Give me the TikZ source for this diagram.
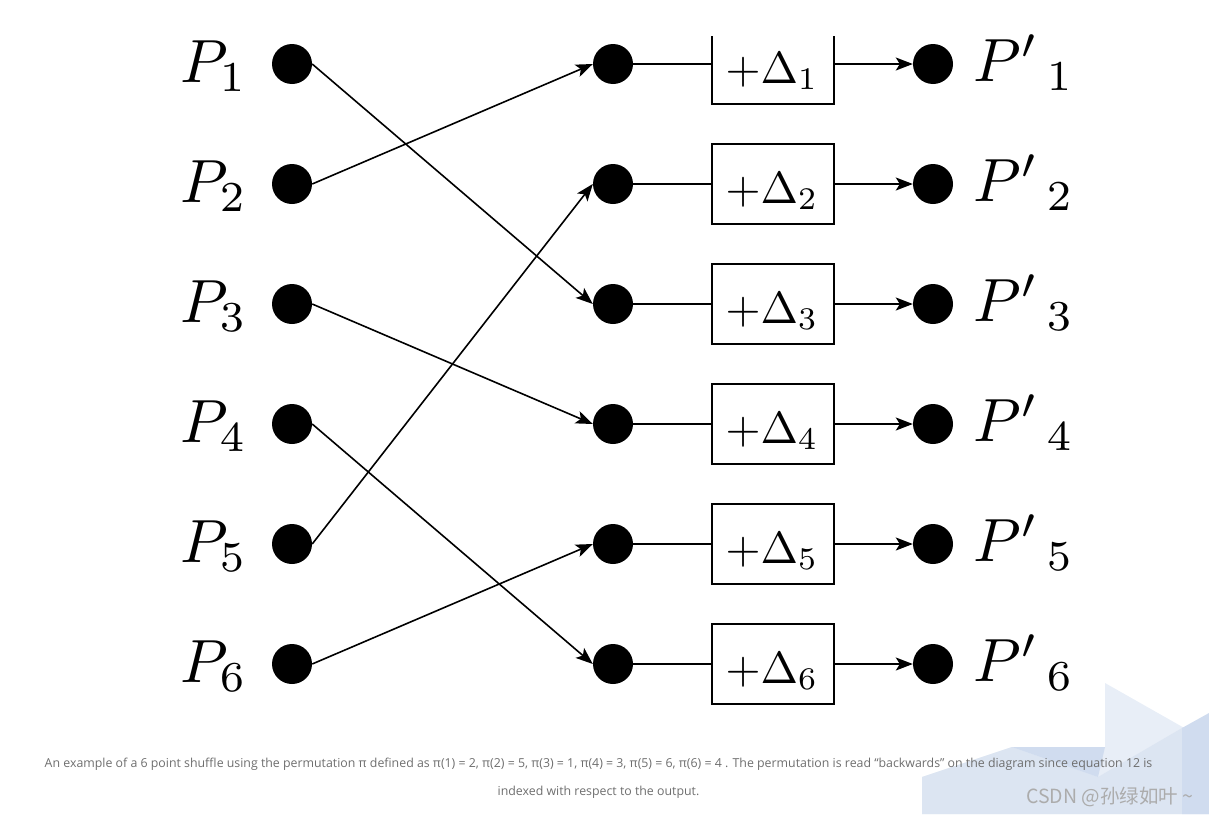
\documentclass[tikz,border=0pt]{standalone}
\usepackage{fontspec}
\newfontfamily\capfont{Open Sans}
\newfontfamily\cjk{Noto Sans CJK SC}
\usetikzlibrary{arrows.meta}
\definecolor{wmlight}{HTML}{E8EEF7}
\definecolor{wmmid}{HTML}{DCE5F2}
\definecolor{wmdark}{HTML}{D0DCEF}
\definecolor{capgray}{HTML}{6E6E6E}
\tikzset{
  dot/.style={circle, fill=black, inner sep=0pt, minimum size=40pt},
  deltabox/.style={draw, line width=1.6pt, minimum width=122pt, minimum height=80pt, inner sep=0pt},
  plabel/.style={scale=6.1, anchor=base, inner sep=0pt},
  dlabel/.style={scale=4.5, anchor=base, inner sep=0pt},
  conn/.style={line width=1.6pt},
  arr/.style={line width=1.6pt, -{Stealth[length=17pt,width=13pt,inset=4pt]}},
  captext/.style={font=\capfont\fontsize{12.35}{14}\selectfont, text=capgray, anchor=base, inner sep=0pt}
}
\begin{document}
\begin{tikzpicture}[x=1pt,y=-1pt]
\useasboundingbox (0,0) rectangle (1209,814);
% watermark background shapes
\fill[wmlight] (922,814) -- (922,777) -- (1012,747) -- (1105,747) -- (1105,683) -- (1209,742) -- (1209,814) -- cycle;
\fill[wmmid] (922,777) -- (1012,747) -- (1098,777) -- (1182,728) -- (1209,742) -- (1209,814) -- (922,814) -- cycle;
\fill[wmdark] (1012,747) -- (1105,747) -- (1098,777) -- cycle;
\fill[wmdark] (1182,728) -- (1209,713) -- (1209,814) -- (1182,814) -- cycle;
% input dots and labels
\foreach \i/\y in {1/64,2/184,3/304,4/424,5/544,6/664}{
  \node[dot] (L\i) at (292,\y) {};
  \node[plabel] (PL\i) at (214,\y+18) {$P_{\i}$};
  \node[dot] (M\i) at (613,\y) {};
  \node[dot] (O\i) at (933,\y) {};
  \node[plabel] (PO\i) at (1024,\y+17) {${P'}_{\,\i}$};
}
% boxes (top one is cut off by the picture's top edge)
\begin{scope}
\clip (0,36) rectangle (1209,814);
\foreach \i/\y in {1/64,2/184,3/304,4/424,5/544,6/664}{
  \node[deltabox] (B\i) at (773,\y) {};
  \node[dlabel] (D\i) at (772,\y+19) {$+\Delta_{\i}$};
}
\end{scope}
\foreach \i in {1,...,6}{
  \draw[conn] (M\i.east) -- (B\i.west);
  \draw[arr] (B\i.east) -- (O\i.west);
}
% permutation connectors
\draw[arr] (L1.east) -- (M3.west);
\draw[arr] (L2.east) -- (M1.west);
\draw[arr] (L3.east) -- (M4.west);
\draw[arr] (L4.east) -- (M6.west);
\draw[arr] (L5.east) -- (M2.west);
\draw[arr] (L6.east) -- (M5.west);
% caption
\node[captext] (cap1) at (598.5,767) {An example of a 6 point shuffle using the permutation π defined as π(1) = 2, π(2) = 5, π(3) = 1, π(4) = 3, π(5) = 6, π(6) = 4 . The permutation is read “backwards” on the diagram since equation 12 is};
\node[captext] (cap2) at (598.5,795) {indexed with respect to the output.};
% watermark text
\node[anchor=base west, inner sep=0pt, text=gray!65, font=\cjk\fontsize{19.5}{21}\selectfont] (wm) at (1026,803) {CSDN @孙绿如叶 \textasciitilde};
\end{tikzpicture}
\end{document}
